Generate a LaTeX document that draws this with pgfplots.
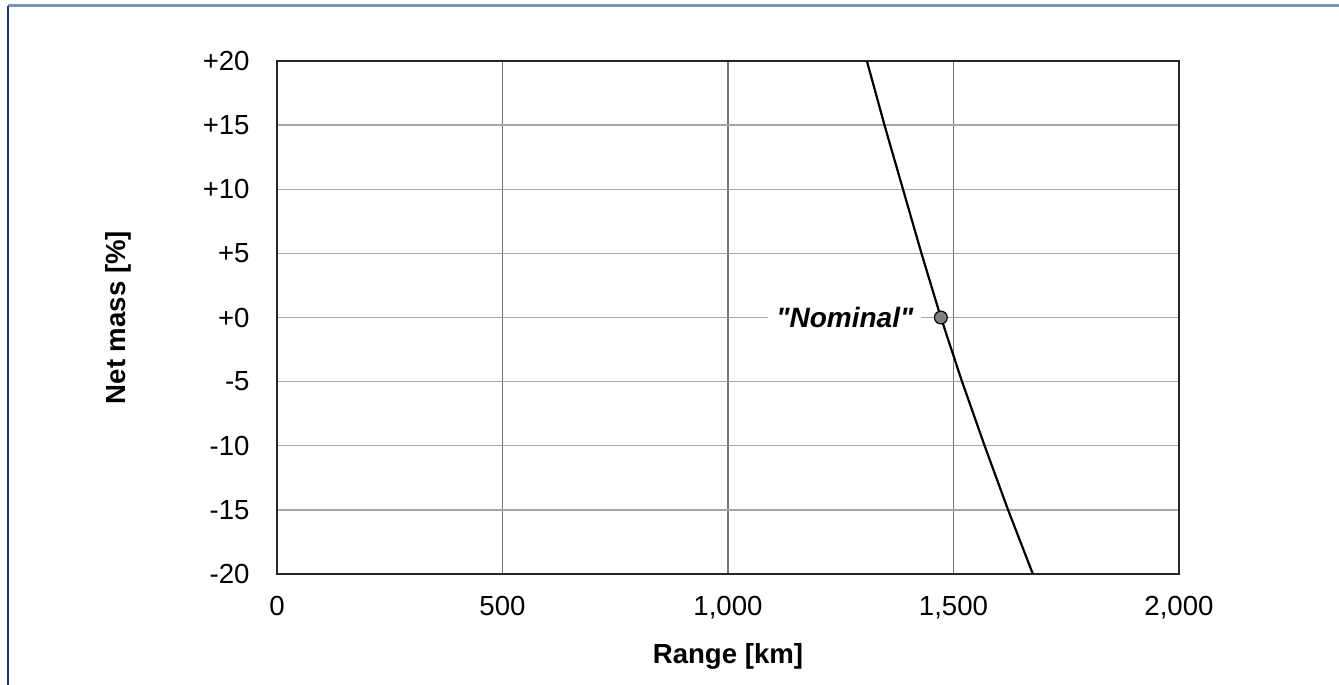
\documentclass[border=0pt]{standalone}
\usepackage{fontspec}
\setmainfont{Liberation Sans}
\newfontfamily\nomfont{Liberation Sans}
\usepackage{pgfplots}
\pgfplotsset{compat=1.18}
\definecolor{frametop}{RGB}{122,150,180}
\definecolor{frameleft}{RGB}{30,60,125}
\definecolor{nomgray}{RGB}{128,128,128}
\begin{document}
\begin{tikzpicture}
\useasboundingbox (-138.5pt,-55.5pt) rectangle (531pt,287pt);
\draw[frametop, line width=1.2pt] (-134.5pt,284.2pt) -- (531pt,284.2pt);
\draw[frameleft, line width=1pt] (-134.5pt,284.2pt) -- (-134.5pt,-55.5pt);
\begin{axis}[
    at={(0,0)}, anchor=south west,
    scale only axis,
    width=451pt, height=256.5pt,
    xmin=0, xmax=2000, ymin=-20, ymax=20,
    xtick={0,500,1000,1500,2000},
    xticklabels={0,500,{1,000},{1,500},{2,000}},
    ytick={-20,-15,-10,-5,0,5,10,15,20},
    yticklabels={-20,-15,-10,-5,+0,+5,+10,+15,+20},
    major tick length=0pt,
    tick label style={font=\fontsize{13.8}{16}\selectfont},
    xticklabel style={anchor=north, inner sep=0pt, yshift=-11pt},
    yticklabel style={anchor=east, inner sep=0pt, xshift=-13.5pt},
    xmajorgrids, ymajorgrids,
    x grid style={black!55, line width=0.6pt},
    y grid style={black!35, line width=0.7pt},
    axis line style={black!85, line width=1pt},
    label style={font=\fontsize{13.8}{16}\selectfont\bfseries},
    xlabel={Range [km]},
    ylabel={Net mass [\%]},
    xlabel style={at={(axis description cs:0.5,-0.16)}, anchor=center},
    ylabel style={at={(axis description cs:-0.176,0.5)}, anchor=center},
]
\addplot[black, line width=1.1pt] coordinates {
    (1308,20)(1347,15)(1388,10)(1429,5)(1472,0)
    (1519,-5)(1569,-10)(1621,-15)(1676,-20)
};
\addplot[only marks, mark=*, mark size=3.2pt,
    mark options={fill=nomgray, draw=black, line width=0.6pt}]
    coordinates {(1472,0)};
\node[fill=white, inner xsep=4pt, inner ysep=2pt,
    font=\nomfont\fontsize{14}{16}\selectfont\bfseries\itshape]
    at (axis cs:1259,0) {"Nominal"};
\end{axis}
\end{tikzpicture}
\end{document}
